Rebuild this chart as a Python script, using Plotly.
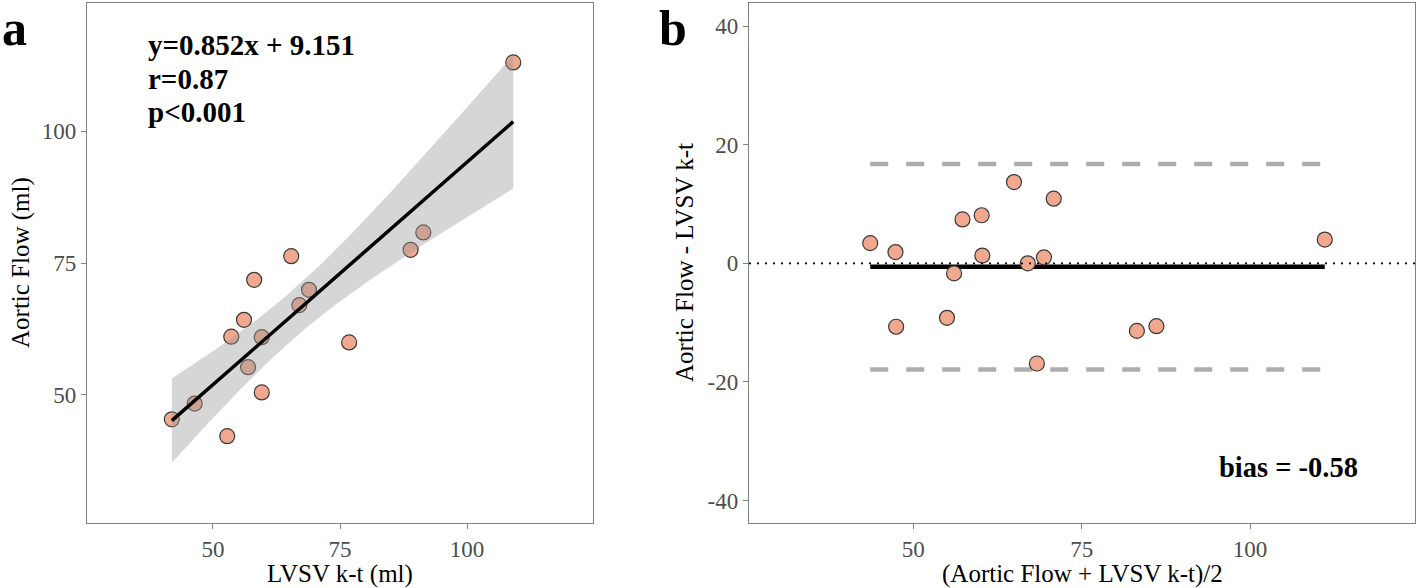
import numpy as np
import plotly.graph_objects as go

# ---------------- data ----------------
lvsv_kt = [109.1, 91.4, 88.9, 65.4, 58.1, 68.9, 67.0, 56.1, 53.6, 59.6, 76.8, 56.9, 59.6, 46.4, 41.9, 52.8]
aortic_flow = [113.1, 80.8, 77.5, 76.3, 71.8, 69.9, 67.0, 64.2, 61.0, 60.9, 59.9, 55.2, 50.4, 48.3, 45.3, 42.1]

eq_text = ["y=0.852x + 9.151", "r=0.87", "p<0.001"]
bias_value = -0.58
loa_upper = 16.75
loa_lower = -17.9
t_crit = 2.1448  # t(0.975, df=14)

left_ticks = [50, 75, 100]
right_xticks = [50, 75, 100]
right_yticks = [-40, -20, 0, 20, 40]
right_yticklabels = ["-40", "-20", "0", "20", "40"]

# ---------------- derived ----------------
x = np.array(lvsv_kt)
y = np.array(aortic_flow)
n = len(x)
slope, intercept = np.polyfit(x, y, 1)
xs = np.linspace(x.min(), x.max(), 80)
yfit = slope * xs + intercept
resid = y - (slope * x + intercept)
s = np.sqrt(np.sum(resid ** 2) / (n - 2))
sxx = np.sum((x - x.mean()) ** 2)
se = s * np.sqrt(1.0 / n + (xs - x.mean()) ** 2 / sxx)
upper = yfit + t_crit * se
lower = yfit - t_crit * se

ba_mean = (x + y) / 2
ba_diff = y - x

W, H = 1418, 588
def px(v):
    return v / W
def py(v):
    return 1 - v / H

SERIF = "Liberation Serif, Times New Roman, serif"
FILL = "#F0A88E"
EDGE = "#3a3a3a"
AXC = "#808080"
TICKC = "#4d4d4d"

fig = go.Figure()

# left panel
fig.add_trace(go.Scatter(x=x, y=y, mode="markers", xaxis="x", yaxis="y",
                         marker=dict(size=15, color=FILL, line=dict(color=EDGE, width=1.2)),
                         showlegend=False, hoverinfo="skip"))
fig.add_trace(go.Scatter(x=np.concatenate([xs, xs[::-1]]), y=np.concatenate([upper, lower[::-1]]),
                         fill="toself", fillcolor="rgba(153,153,153,0.4)", line=dict(width=0),
                         mode="lines", xaxis="x", yaxis="y", showlegend=False, hoverinfo="skip"))
fig.add_trace(go.Scatter(x=xs, y=yfit, mode="lines", line=dict(color="black", width=3.5),
                         xaxis="x", yaxis="y", showlegend=False, hoverinfo="skip"))

# right panel
xr = [ba_mean.min(), ba_mean.max()]
fig.add_shape(type="line", xref="x2 domain", yref="y2", x0=0, x1=1, y0=0, y1=0,
              line=dict(color="black", width=1.8, dash="2px,6px"))
fig.add_trace(go.Scatter(x=xr, y=[loa_upper, loa_upper], mode="lines", xaxis="x2", yaxis="y2",
                         line=dict(color="#ADADAD", width=4.5, dash="18px,18px"),
                         showlegend=False, hoverinfo="skip"))
fig.add_trace(go.Scatter(x=xr, y=[loa_lower, loa_lower], mode="lines", xaxis="x2", yaxis="y2",
                         line=dict(color="#ADADAD", width=4.5, dash="18px,18px"),
                         showlegend=False, hoverinfo="skip"))
fig.add_trace(go.Scatter(x=xr, y=[bias_value, bias_value], mode="lines", xaxis="x2", yaxis="y2",
                         line=dict(color="black", width=4.5),
                         showlegend=False, hoverinfo="skip"))
fig.add_trace(go.Scatter(x=ba_mean, y=ba_diff, mode="markers", xaxis="x2", yaxis="y2",
                         marker=dict(size=15, color=FILL, line=dict(color=EDGE, width=1.2)),
                         showlegend=False, hoverinfo="skip"))

axis_common = dict(showline=True, linecolor=AXC, linewidth=1.3, mirror=True,
                   ticks="outside", ticklen=5, tickcolor=AXC, tickwidth=1.3,
                   showgrid=False, zeroline=False,
                   tickfont=dict(family=SERIF, size=23, color=TICKC))

fig.update_layout(
    width=W, height=H,
    margin=dict(l=0, r=0, t=0, b=0),
    paper_bgcolor="white", plot_bgcolor="white",
    xaxis=dict(domain=[px(87), px(593)], range=[25.2, 124.8], tickvals=left_ticks, anchor="y", **axis_common),
    yaxis=dict(domain=[py(523), py(3)], range=[25.6, 124.4], tickvals=left_ticks, anchor="x", **axis_common),
    xaxis2=dict(domain=[px(749), px(1415)], range=[25.6, 124.5], tickvals=right_xticks, anchor="y2", **axis_common),
    yaxis2=dict(domain=[py(523), py(3)], range=[-43.8, 43.9], tickvals=right_yticks,
                ticktext=right_yticklabels, anchor="x2", **axis_common),
)

ann = []
# axis titles
ann.append(dict(text="LVSV k-t (ml)", x=px(340), y=py(574), xref="paper", yref="paper",
                showarrow=False, xanchor="center", yanchor="middle",
                font=dict(family=SERIF, size=25, color="black")))
ann.append(dict(text="Aortic Flow (ml)", x=px(21), y=py(263), xref="paper", yref="paper",
                showarrow=False, xanchor="center", yanchor="middle", textangle=-90,
                font=dict(family=SERIF, size=25, color="black")))
ann.append(dict(text="(Aortic Flow + LVSV k-t)/2", x=px(1082), y=py(574), xref="paper", yref="paper",
                showarrow=False, xanchor="center", yanchor="middle",
                font=dict(family=SERIF, size=25, color="black")))
ann.append(dict(text="Aortic Flow - LVSV k-t", x=px(684), y=py(263), xref="paper", yref="paper",
                showarrow=False, xanchor="center", yanchor="middle", textangle=-90,
                font=dict(family=SERIF, size=25, color="black")))
# panel labels
ann.append(dict(text="<b>a</b>", x=px(0), y=py(28), xref="paper", yref="paper",
                showarrow=False, xanchor="left", yanchor="middle",
                font=dict(family=SERIF, size=50, color="black")))
ann.append(dict(text="<b>b</b>", x=px(657), y=py(28), xref="paper", yref="paper",
                showarrow=False, xanchor="left", yanchor="middle",
                font=dict(family=SERIF, size=50, color="black")))
# equation text
for i, t in enumerate(eq_text):
    ann.append(dict(text="<b>%s</b>" % t, x=px(146), y=py(45 + 33.5 * i), xref="paper", yref="paper",
                    showarrow=False, xanchor="left", yanchor="middle",
                    font=dict(family=SERIF, size=29, color="black")))
# bias text
ann.append(dict(text="<b>bias = %.2f</b>" % bias_value, x=px(1288), y=py(467), xref="paper", yref="paper",
                showarrow=False, xanchor="center", yanchor="middle",
                font=dict(family=SERIF, size=28.5, color="black")))
fig.update_layout(annotations=ann)

fig.write_html("out.html", config={"displayModeBar": False},
               post_script="document.body.style.margin='0px';document.body.style.overflow='hidden';")
